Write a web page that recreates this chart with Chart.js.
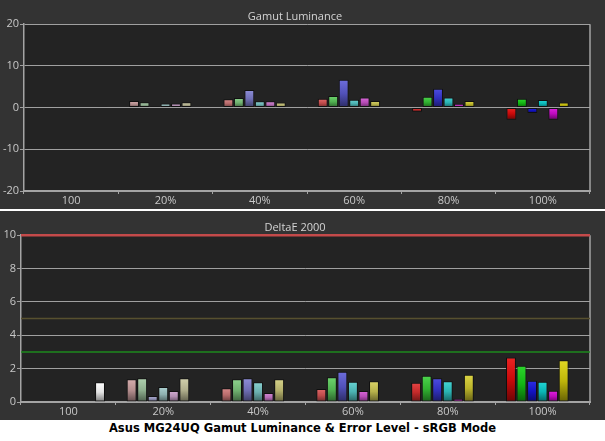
<!DOCTYPE html>
<html>
<head>
<meta charset="utf-8">
<script src="https://cdn.jsdelivr.net/npm/chart.js@4/dist/chart.umd.min.js"></script>
<style>
  html, body { margin: 0; padding: 0; background: #ffffff; }
  #page { position: relative; width: 605px; height: 441px; background: #ffffff; overflow: hidden; }
  .panel { position: absolute; left: 0; width: 605px; height: 209px; background: #333333; }
  #panel-lum { top: 0; }
  #panel-de { top: 211px; }
  #footer {
    position: absolute; left: 0; top: 421px; width: 605px; height: 20px;
    text-align: center; line-height: 20px;
    font: bold 11.5px "DejaVu Sans", sans-serif; color: #000000;
  }
</style>
</head>
<body>
<div id="page">
  <div class="panel" id="panel-lum"><canvas id="chart-lum" width="605" height="209"></canvas></div>
  <div class="panel" id="panel-de"><canvas id="chart-de" width="605" height="209"></canvas></div>
  <div id="footer">Asus MG24UQ Gamut Luminance &amp; Error Level - sRGB Mode</div>
</div>
<script>
// Categorías (nivel de saturación)
const satLabels = ['100', '20%', '40%', '60%', '80%', '100%'];
const seriesNames = ['White', 'Red', 'Green', 'Blue', 'Cyan', 'Magenta', 'Yellow'];

// Gamut Luminance (%)
const lumWhite   = [0.2, null, null, null, null, null];
const lumRed     = [null, 1.6, 2.0, 2.1, -1.0, -2.9];
const lumGreen   = [null, 1.3, 2.3, 2.8, 2.6, 2.1];
const lumBlue    = [null, 0.3, 4.2, 6.7, 4.5, -1.3];
const lumCyan    = [null, 1.0, 1.5, 1.9, 2.4, 1.8];
const lumMagenta = [null, 1.0, 1.5, 2.4, 0.9, -2.9];
const lumYellow  = [null, 1.3, 1.2, 1.6, 1.6, 1.2];

// DeltaE 2000
const deWhite   = [1.19, null, null, null, null, null];
const deRed     = [null, 1.37, 0.83, 0.78, 1.16, 2.67];
const deGreen   = [null, 1.43, 1.37, 1.49, 1.57, 2.17];
const deBlue    = [null, 0.36, 1.43, 1.81, 1.43, 1.28];
const deCyan    = [null, 0.90, 1.19, 1.22, 1.25, 1.22];
const deMagenta = [null, 0.66, 0.54, 0.66, 0.20, 0.68];
const deYellow  = [null, 1.43, 1.37, 1.25, 1.63, 2.50];

// Líneas de referencia del DeltaE
const deThresholds = [10, 5, 3];

// Estilo
const thresholdColors = ['#c44a4a', '#57502f', '#1e8a1e'];
const thresholdWidths = [2.5, 1.5, 1.5];
const satLevels = [0, 0.2, 0.4, 0.6, 0.8, 1.0];
const fullColors = [
    [240, 240, 240], [212, 10, 10], [20, 190, 20], [20, 20, 205],
    [10, 190, 190], [200, 10, 200], [200, 190, 10]
];
const greyBase = [182, 182, 182];
const slotsPerGroup = 9;
const slotOfSeries = [7, 1, 2, 3, 4, 5, 6];

Chart.defaults.font.family = "'Open Sans', sans-serif";
Chart.defaults.font.size = 11;
Chart.defaults.color = '#c8c8c8';

function colorFor(serie, grupo) {
    if (serie === 0) return fullColors[0];
    const s = satLevels[grupo];
    return fullColors[serie].map((c, i) => Math.round(greyBase[i] * (1 - s) + c * s));
}

function rgb(c, f, add) {
    const v = c.map(x => Math.max(0, Math.min(255, Math.round(x * f + add))));
    return 'rgb(' + v.join(',') + ')';
}

// Etiquetas de las ranuras finas del eje oculto
const slotLabels = [];
for (let g = 0; g < satLabels.length; g++) {
    for (let s = 0; s < slotsPerGroup; s++) slotLabels.push(g + '-' + s);
}

function toSlots(valores, serie) {
    const out = new Array(slotLabels.length).fill(null);
    valores.forEach((v, g) => {
        if (v !== null) out[g * slotsPerGroup + slotOfSeries[serie]] = v;
    });
    return out;
}

function barFill(ctx) {
    const chart = ctx.chart;
    const serie = ctx.datasetIndex;
    const grupo = Math.floor(ctx.dataIndex / slotsPerGroup);
    const base = colorFor(serie, grupo);
    const v = ctx.raw;
    if (!chart.chartArea || v === null || v === undefined) return rgb(base, 1, 0);
    const y = chart.scales.y;
    const p1 = y.getPixelForValue(v);
    const p0 = y.getPixelForValue(0);
    const top = Math.min(p0, p1), bot = Math.max(p0, p1);
    const grad = chart.ctx.createLinearGradient(0, top, 0, bot + 0.01);
    grad.addColorStop(0, rgb(base, 1.0, 25));
    grad.addColorStop(0.5, rgb(base, 0.95, 0));
    grad.addColorStop(1, rgb(base, 0.5, 0));
    return grad;
}

const plotDecor = {
    id: 'plotDecor',
    beforeDatasetsDraw(chart, args, opts) {
        const { ctx, chartArea: a } = chart;
        ctx.save();
        ctx.strokeStyle = '#a4a4a4';
        ctx.lineWidth = 1.5;
        ctx.beginPath();
        ctx.moveTo(a.right, a.top);
        ctx.lineTo(a.right, a.bottom);
        ctx.stroke();
        const lines = opts.lines || [];
        lines.forEach((val, i) => {
            const py = chart.scales.y.getPixelForValue(val);
            ctx.strokeStyle = thresholdColors[i];
            ctx.lineWidth = thresholdWidths[i];
            ctx.beginPath();
            ctx.moveTo(a.left, py);
            ctx.lineTo(a.right, py);
            ctx.stroke();
        });
        ctx.restore();
    },
    beforeDraw(chart) {
        const { ctx, chartArea: a } = chart;
        ctx.save();
        ctx.fillStyle = '#333333';
        ctx.fillRect(0, 0, chart.width, chart.height);
        ctx.fillStyle = '#232323';
        ctx.fillRect(a.left, a.top, a.right - a.left, a.bottom - a.top);
        ctx.restore();
    }
};

function crearGrafico(id, titulo, series, yMin, yMax, paso, anchoY, lineas) {
    const datasets = series.map((valores, i) => ({
        label: seriesNames[i],
        data: toSlots(valores, i),
        xAxisID: 'xs',
        grouped: false,
        backgroundColor: barFill,
        borderColor: '#101010',
        borderWidth: 1,
        borderSkipped: false,
        barPercentage: 0.94,
        categoryPercentage: 1.0
    }));

    return new Chart(document.getElementById(id), {
        type: 'bar',
        data: { labels: slotLabels, datasets: datasets },
        options: {
            responsive: false,
            animation: false,
            layout: { padding: { left: 0, right: 15, top: 0, bottom: 0 } },
            plugins: {
                legend: { display: false },
                tooltip: { enabled: false },
                title: {
                    display: true,
                    text: titulo,
                    color: '#d4d4d4',
                    font: { size: 11, weight: 'normal' },
                    padding: { top: 10, bottom: 1 }
                },
                plotDecor: { lines: lineas }
            },
            scales: {
                x: {
                    type: 'category',
                    labels: satLabels,
                    offset: true,
                    position: 'bottom',
                    grid: { offset: true, drawOnChartArea: false, color: '#a4a4a4', tickLength: 3 },
                    border: { color: '#a4a4a4', width: 2 },
                    ticks: { color: '#c8c8c8', padding: 0, autoSkip: false, maxRotation: 0 },
                    afterFit(scale) { scale.height = 18; }
                },
                xs: {
                    type: 'category',
                    labels: slotLabels,
                    offset: true,
                    display: false
                },
                y: {
                    type: 'linear',
                    min: yMin,
                    max: yMax,
                    ticks: { stepSize: paso, color: '#c8c8c8', padding: 1 },
                    grid: { color: '#a0a0a0', tickLength: 4, lineWidth: 1 },
                    border: { color: '#a4a4a4', width: 1.5 },
                    afterFit(scale) { scale.width = anchoY; }
                }
            }
        },
        plugins: [plotDecor]
    });
}

crearGrafico('chart-lum', 'Gamut Luminance',
    [lumWhite, lumRed, lumGreen, lumBlue, lumCyan, lumMagenta, lumYellow],
    -20, 20, 10, 24, []);

crearGrafico('chart-de', 'DeltaE 2000',
    [deWhite, deRed, deGreen, deBlue, deCyan, deMagenta, deYellow],
    0, 10, 2, 21, deThresholds);
</script>
</body>
</html>
